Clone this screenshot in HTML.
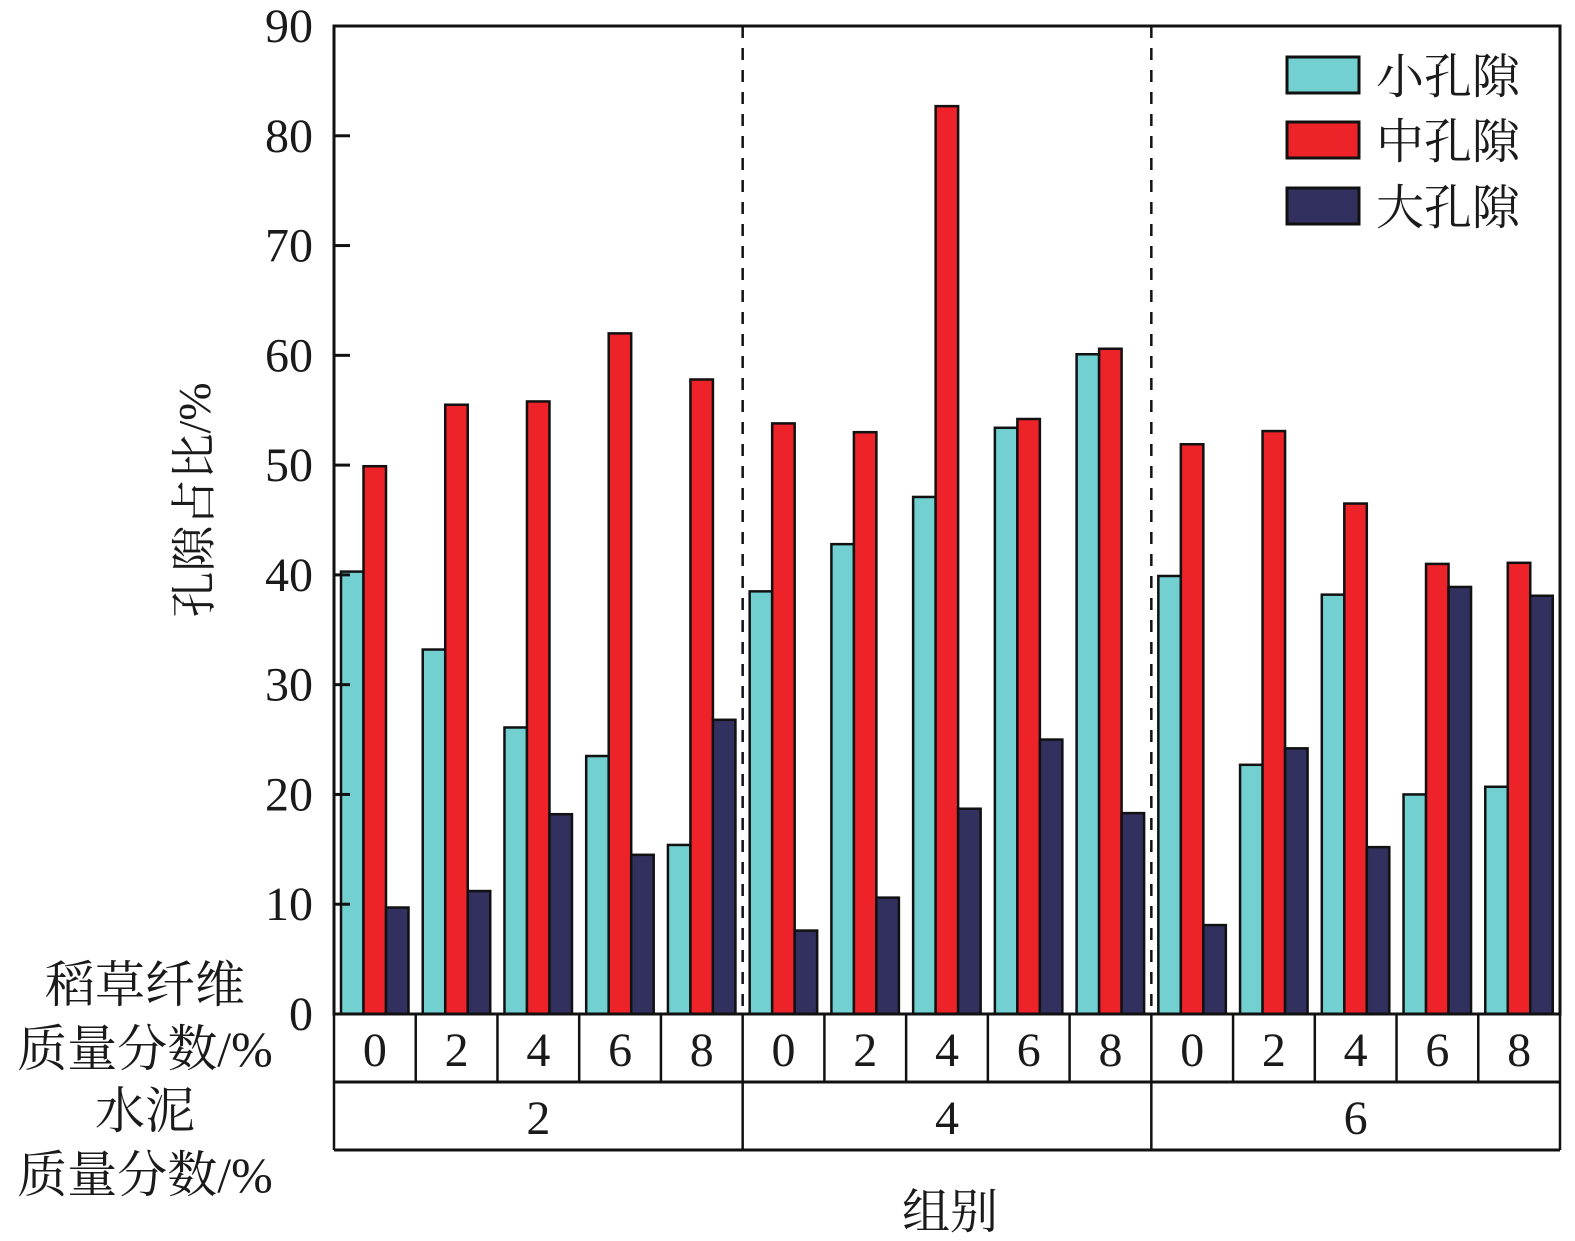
<!DOCTYPE html>
<html><head><meta charset="utf-8"><style>
html,body{margin:0;padding:0;background:#fff;overflow:hidden;width:1575px;height:1241px}
svg{display:block}
svg text{font-family:"Liberation Serif","Noto Serif CJK SC",serif;fill:#1a1a1a}
</style></head><body>
<svg width="1575" height="1241" viewBox="0 0 1575 1241" xmlns="http://www.w3.org/2000/svg">
<g id="bars"></g>
<g id="axes"></g>
<g>
<rect x="1287" y="57" width="72" height="36" fill="#72D0D1" stroke="#111" stroke-width="3"/>
<text x="1376" y="93" font-size="48">小孔隙</text>
<rect x="1287" y="122" width="72" height="36" fill="#EE2229" stroke="#111" stroke-width="3"/>
<text x="1376" y="158" font-size="48">中孔隙</text>
<rect x="1287" y="188" width="72" height="36" fill="#31305F" stroke="#111" stroke-width="3"/>
<text x="1376" y="224" font-size="48">大孔隙</text>
</g>
<text transform="translate(210,500) rotate(-90)" text-anchor="middle" font-size="46">孔隙占比/%</text>
<text x="950" y="1228" text-anchor="middle" font-size="48">组别</text>
<text x="145" y="1002" text-anchor="middle" font-size="50">稻草纤维</text>
<text x="145" y="1066" text-anchor="middle" font-size="50">质量分数/%</text>
<text x="145" y="1128" text-anchor="middle" font-size="50">水泥</text>
<text x="145" y="1192" text-anchor="middle" font-size="50">质量分数/%</text>
</svg>
<script>
const cementGroups=["2","4","6"];
const fiberLevels=["0","2","4","6","8"];
const smallPore=[40.3,33.2,26.1,23.5,15.4, 38.5,42.8,47.1,53.4,60.1, 39.9,22.7,38.2,20.0,20.7];
const mediumPore=[49.9,55.5,55.8,62.0,57.8, 53.8,53.0,82.7,54.2,60.6, 51.9,53.1,46.5,41.0,41.1];
const largePore=[9.7,11.2,18.2,14.5,26.8, 7.6,10.6,18.7,25.0,18.3, 8.1,24.2,15.2,38.9,38.1];
const yTicks=[0,10,20,30,40,50,60,70,80,90];

const NS="http://www.w3.org/2000/svg";
const X0=334,X1=1560,Y0=1014,YT=26,YMAX=90;
const y=v=>Y0-(v/YMAX)*(Y0-YT);
const nSub=cementGroups.length*fiberLevels.length;
const subW=(X1-X0)/nSub;
const barW=22.5;
const subX=i=>X0+i*subW;
function mk(tag,attrs,parent){const e=document.createElementNS(NS,tag);for(const k in attrs)e.setAttribute(k,attrs[k]);parent.appendChild(e);return e;}
const bars=document.getElementById('bars'),axes=document.getElementById('axes');
const series=[[smallPore,'#72D0D1','small'],[mediumPore,'#EE2229','medium'],[largePore,'#31305F','large']];
for(let i=0;i<nSub;i++){
  series.forEach((s,j)=>{
    const v=s[0][i];
    const r=mk('rect',{x:subX(i)+7+j*barW,y:y(v),width:barW,height:Y0-y(v),fill:s[1],stroke:'#111','stroke-width':2.5},bars);
    
    
  });
}
const fr=mk('rect',{x:X0,y:YT,width:X1-X0,height:Y0-YT,fill:'none',stroke:'#111','stroke-width':3},axes);


yTicks.forEach(t=>{
  const l=mk('line',{x1:X0,x2:X0+16,y1:y(t),y2:y(t),stroke:'#111','stroke-width':3},axes);
  
  
  const tx=mk('text',{x:313,y:y(t)+16,'text-anchor':'end','font-size':48},axes);
  tx.textContent=t;
  
  
});
for(let g=1;g<cementGroups.length;g++){
  const gx=subX(g*fiberLevels.length);
  const d=mk('line',{x1:gx,x2:gx,y1:YT,y2:Y0,stroke:'#111','stroke-width':2.5,'stroke-dasharray':'12,10'},axes);
  
  
}
const R1=1082,R2=1150;
[Y0,R1,R2].forEach(r=>{
  const l=mk('line',{x1:X0,x2:X1,y1:r,y2:r,stroke:'#111','stroke-width':3},axes);
  
  
});
for(let i=0;i<=nSub;i++){
  const l=mk('line',{x1:subX(i),x2:subX(i),y1:Y0,y2:R1,stroke:'#111','stroke-width':2.5},axes);
  
  
  if(i<nSub){
    const t=mk('text',{x:subX(i)+subW/2,y:1066,'text-anchor':'middle','font-size':48},axes);
    t.textContent=fiberLevels[i%fiberLevels.length];
    
    
  }
}
for(let g=0;g<=cementGroups.length;g++){
  const gx=subX(g*fiberLevels.length);
  const l=mk('line',{x1:gx,x2:gx,y1:R1,y2:R2,stroke:'#111','stroke-width':2.5},axes);
  
  
  if(g<cementGroups.length){
    const t=mk('text',{x:gx+subW*fiberLevels.length/2,y:1134,'text-anchor':'middle','font-size':48},axes);
    t.textContent=cementGroups[g];
    
    
  }
}
</script>
</body></html>
